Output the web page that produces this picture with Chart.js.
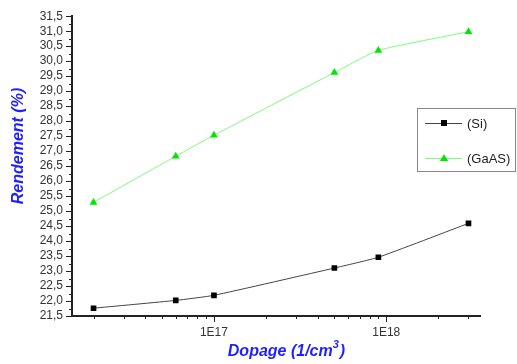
<!DOCTYPE html>
<html>
<head>
<meta charset="utf-8">
<script src="https://cdn.jsdelivr.net/npm/chart.js@4"></script>
<style>
  html, body { margin: 0; padding: 0; background: #fff; }
  #wrap { width: 517px; height: 364px; }
</style>
</head>
<body>
<div id="wrap"><canvas id="chart" width="517" height="364"></canvas></div>
<script>
// values
const dopage = [2e16, 6e16, 1e17, 5e17, 9e17, 3e18];
const rendementSi = [21.76, 22.02, 22.19, 23.1, 23.46, 24.59];
const rendementGaAs = [25.29, 26.83, 27.53, 29.62, 30.36, 30.98];
const seriesNames = ['(Si)', '(GaAS)'];
const xTickValues = [1e17, 1e18];
const xTickLabels = ['1E17', '1E18'];

const FONT = '"Liberation Sans", Arial, sans-serif';
const BLUE = '#1f1fff';

function toPoints(ys) {
    return dopage.map((x, i) => ({ x: x, y: ys[i] }));
}

const decor = {
    id: 'decor',
    afterDraw(chart) {
        const ctx = chart.ctx;
        const xs = chart.scales.x;
        const ys = chart.scales.y;
        const area = chart.chartArea;
        ctx.save();
        ctx.strokeStyle = '#222';
        ctx.lineWidth = 1;

        // x tick marks (major + minor)
        xs.ticks.forEach(t => {
            const px = Math.round(xs.getPixelForValue(t.value)) + 0.5;
            const major = xTickValues.includes(t.value);
            ctx.beginPath();
            ctx.moveTo(px, area.bottom);
            ctx.lineTo(px, area.bottom + (major ? 6 : 3));
            ctx.stroke();
        });

        // y tick marks, minor at half steps
        for (let v = 21.5; v <= 31.5 + 1e-9; v += 0.25) {
            const py = Math.round(ys.getPixelForValue(v)) + 0.5;
            const major = Math.abs(v * 2 - Math.round(v * 2)) < 1e-6;
            ctx.beginPath();
            ctx.moveTo(area.left, py);
            ctx.lineTo(area.left - (major ? 6 : 3), py);
            ctx.stroke();
        }

        // axis titles
        ctx.fillStyle = BLUE;
        ctx.font = 'italic bold 16px ' + FONT;
        ctx.textBaseline = 'middle';
        ctx.save();
        ctx.translate(19, 146);
        ctx.rotate(-Math.PI / 2);
        ctx.textAlign = 'center';
        ctx.fillText('Rendement (%)', 0, 0);
        ctx.restore();

        const main = 'Dopage (1/cm';
        ctx.textAlign = 'left';
        const w1 = ctx.measureText(main).width;
        ctx.font = 'italic bold 11px ' + FONT;
        const w2 = ctx.measureText('3').width;
        ctx.font = 'italic bold 16px ' + FONT;
        const w3 = ctx.measureText(')').width;
        let x0 = 286 - (w1 + w2 + w3) / 2;
        ctx.fillText(main, x0, 352);
        ctx.font = 'italic bold 11px ' + FONT;
        ctx.fillText('3', x0 + w1, 345);
        ctx.font = 'italic bold 16px ' + FONT;
        ctx.fillText(')', x0 + w1 + w2 + 1, 352);

        // legend box
        ctx.strokeStyle = '#888';
        ctx.strokeRect(417.5, 108.5, 98, 63);
        const items = [
            { y: 123, line: '#444', fill: '#000', style: 'rect' },
            { y: 158, line: '#7cfc7c', fill: '#00e600', style: 'triangle' }
        ];
        items.forEach((it, i) => {
            ctx.strokeStyle = it.line;
            ctx.beginPath();
            ctx.moveTo(425, it.y + 0.5);
            ctx.lineTo(462, it.y + 0.5);
            ctx.stroke();
            ctx.fillStyle = it.fill;
            if (it.style === 'rect') {
                ctx.fillRect(441, it.y - 3, 6, 6);
            } else {
                ctx.beginPath();
                ctx.moveTo(444, it.y - 4);
                ctx.lineTo(448, it.y + 3);
                ctx.lineTo(440, it.y + 3);
                ctx.closePath();
                ctx.fill();
            }
            ctx.fillStyle = '#222';
            ctx.font = '13px ' + FONT;
            ctx.textAlign = 'left';
            ctx.fillText(seriesNames[i], 467, it.y + 1);
        });
        ctx.restore();
    }
};

new Chart(document.getElementById('chart'), {
    type: 'scatter',
    data: {
        datasets: [{
            label: seriesNames[0],
            data: toPoints(rendementSi),
            showLine: true,
            borderColor: '#444',
            borderWidth: 1,
            backgroundColor: '#000',
            pointStyle: 'rect',
            pointRadius: 4,
            pointBorderWidth: 0,
            tension: 0.15
        }, {
            label: seriesNames[1],
            data: toPoints(rendementGaAs),
            showLine: true,
            borderColor: '#7cfc7c',
            borderWidth: 1,
            backgroundColor: '#00e600',
            pointStyle: 'triangle',
            pointRadius: 4.5,
            pointBorderWidth: 0,
            tension: 0.15
        }]
    },
    options: {
        responsive: false,
        animation: false,
        layout: { padding: { top: 15, right: 37, left: 0, bottom: 0 } },
        plugins: {
            legend: { display: false },
            tooltip: { enabled: false }
        },
        scales: {
            x: {
                type: 'logarithmic',
                min: 1.5e16,
                max: 3.5e18,
                afterBuildTicks(scale) {
                    const list = [];
                    for (let e = 16; e <= 18; e++) {
                        for (let m = 1; m <= 9; m++) {
                            const v = m * Math.pow(10, e);
                            if (v >= scale.min && v <= scale.max) list.push({ value: v });
                        }
                    }
                    scale.ticks = list;
                },
                afterFit(scale) { scale.height = 48; },
                ticks: {
                    autoSkip: false,
                    maxRotation: 0,
                    padding: 9,
                    color: '#333',
                    font: { family: FONT, size: 12 },
                    callback(value) {
                        const i = xTickValues.indexOf(value);
                        return i >= 0 ? xTickLabels[i] : '';
                    }
                },
                grid: { display: false, drawTicks: false },
                border: { display: true, color: '#222', width: 2 }
            },
            y: {
                min: 21.5,
                max: 31.5,
                afterFit(scale) { scale.width = 72; },
                ticks: {
                    stepSize: 0.5,
                    autoSkip: false,
                    padding: 9,
                    color: '#333',
                    font: { family: FONT, size: 12 },
                    callback(value) { return value.toFixed(1).replace('.', ','); }
                },
                grid: { display: false, drawTicks: false },
                border: { display: true, color: '#222', width: 2 }
            }
        }
    },
    plugins: [decor]
});
</script>
</body>
</html>
